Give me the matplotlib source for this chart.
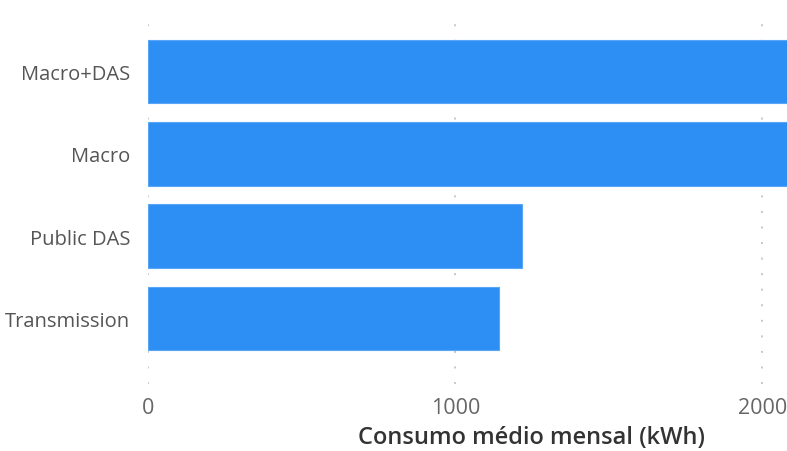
import matplotlib.pyplot as plt

# categories top to bottom, values in kWh (first two run past the axis edge)
categories = ["Macro+DAS", "Macro", "Public DAS", "Transmission"]
consumo = [2450, 2300, 1216, 1141]
xticks = [0, 1000, 2000]

plt.rcParams['font.family'] = ['Open Sans', 'DejaVu Sans']

fig = plt.figure(figsize=(7.87, 4.52), dpi=100)
ax = fig.add_axes([148.3 / 787, 1 - 385 / 452, 1 - 148.3 / 787, 373 / 452])

pos = list(range(len(categories)))
ax.barh(pos, consumo, height=0.77, color="#2D8EF4", edgecolor="#5AA6F6",
        linewidth=0.8, zorder=2)

ax.set_xlim(0, 2080)
ax.set_ylim(3.8, -0.74)
ax.set_yticks(pos)
ax.set_yticklabels(categories, fontsize=14.5, color="#555555")
ax.set_xticks(xticks)
ax.set_xticklabels([str(t) for t in xticks], fontsize=15.5, color="#666666")
ax.tick_params(length=0)
ax.tick_params(axis="y", pad=13)
ax.tick_params(axis="x", pad=9)

ax.grid(axis="x", color="#C8C8C8", linestyle=(0, (1, 7)), linewidth=1.4, zorder=0)
ax.set_axisbelow(True)
for s in ax.spines.values():
    s.set_visible(False)

ax.set_xlabel("Consumo médio mensal (kWh)", fontsize=17, fontweight="semibold",
              color="#333333")
# title sits right of the visible axis centre, as in the original
ax.xaxis.set_label_coords(0.6, -0.11)

fig.savefig("out.png", dpi=100)
